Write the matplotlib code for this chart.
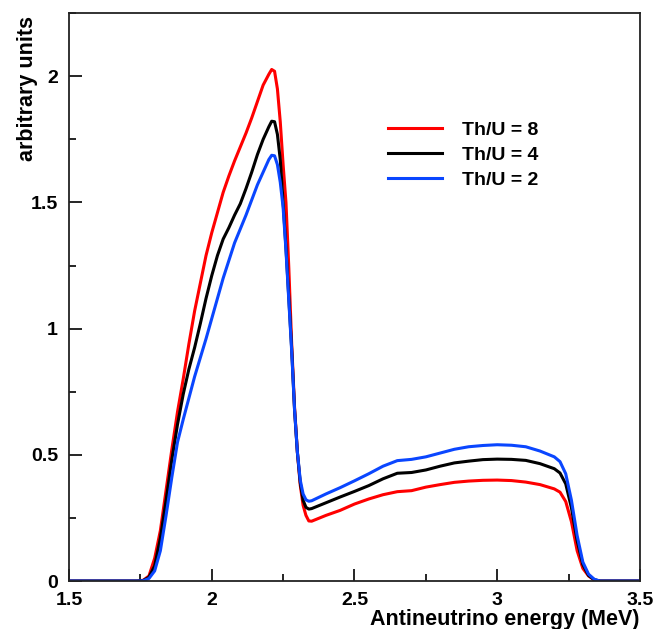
import matplotlib
matplotlib.use("Agg")
import matplotlib.pyplot as plt
from matplotlib.ticker import MultipleLocator, FormatStrFormatter

# antineutrino energy grid (MeV) and spectra
energy = [1.50, 1.74, 1.76, 1.78, 1.80, 1.82, 1.84, 1.86, 1.88, 1.90,
          1.92, 1.94, 1.96, 1.98, 2.00, 2.02, 2.04, 2.06, 2.08, 2.10,
          2.12, 2.14, 2.16, 2.18, 2.20, 2.21, 2.22, 2.23, 2.24, 2.25,
          2.26, 2.27, 2.28, 2.29, 2.30, 2.31, 2.32, 2.33, 2.34, 2.35,
          2.40, 2.45, 2.50, 2.55, 2.60, 2.65, 2.70, 2.75, 2.80, 2.85,
          2.90, 2.95, 3.00, 3.05, 3.10, 3.15, 3.20, 3.22, 3.24, 3.26,
          3.28, 3.30, 3.32, 3.34, 3.36, 3.40, 3.50]

thu8 = [0, 0, 0.003, 0.02, 0.09, 0.20, 0.36, 0.52, 0.67, 0.80,
        0.94, 1.07, 1.18, 1.29, 1.38, 1.46, 1.54, 1.605, 1.665, 1.72,
        1.775, 1.835, 1.90, 1.965, 2.008, 2.027, 2.02, 1.95, 1.82, 1.65,
        1.50, 1.24, 0.94, 0.69, 0.51, 0.38, 0.30, 0.26, 0.238, 0.237,
        0.26, 0.28, 0.305, 0.325, 0.342, 0.354, 0.358, 0.372, 0.382, 0.391,
        0.396, 0.399, 0.400, 0.398, 0.392, 0.382, 0.365, 0.352, 0.315, 0.235,
        0.12, 0.05, 0.02, 0.004, 0, 0, 0]

thu4 = [0, 0, 0.002, 0.015, 0.06, 0.17, 0.32, 0.48, 0.62, 0.74,
        0.84, 0.925, 1.02, 1.12, 1.21, 1.29, 1.355, 1.40, 1.45, 1.495,
        1.555, 1.62, 1.69, 1.75, 1.80, 1.822, 1.82, 1.77, 1.67, 1.50,
        1.32, 1.12, 0.92, 0.68, 0.51, 0.39, 0.32, 0.292, 0.285, 0.287,
        0.31, 0.333, 0.355, 0.378, 0.405, 0.427, 0.43, 0.44, 0.455, 0.468,
        0.475, 0.481, 0.483, 0.482, 0.478, 0.465, 0.445, 0.428, 0.385, 0.29,
        0.16, 0.065, 0.022, 0.005, 0, 0, 0]

thu2 = [0, 0, 0.001, 0.01, 0.04, 0.12, 0.26, 0.41, 0.55, 0.64,
        0.725, 0.81, 0.885, 0.96, 1.04, 1.12, 1.20, 1.27, 1.34, 1.395,
        1.45, 1.51, 1.57, 1.62, 1.67, 1.687, 1.685, 1.65, 1.58, 1.48,
        1.31, 1.11, 0.91, 0.68, 0.51, 0.40, 0.345, 0.322, 0.316, 0.318,
        0.345, 0.37, 0.397, 0.425, 0.455, 0.477, 0.482, 0.492, 0.507, 0.522,
        0.532, 0.537, 0.540, 0.538, 0.532, 0.515, 0.492, 0.473, 0.425, 0.32,
        0.18, 0.075, 0.027, 0.007, 0, 0, 0]

labels = ["Th/U = 8", "Th/U = 4", "Th/U = 2"]
colors = ["#ff0000", "#000000", "#0a46ff"]

plt.rcParams["font.family"] = ["Liberation Sans", "DejaVu Sans"]
plt.rcParams["font.weight"] = "bold"

fig = plt.figure(figsize=(6.53, 6.29), dpi=100)
ax = fig.add_axes([0.1057, 0.0763, 0.8743, 0.9027])

for ys, lab, c in zip([thu8, thu4, thu2], labels, colors):
    ax.plot(energy, ys, color=c, lw=2.2, label=lab)

ax.set_xlim(1.5, 3.5)
ax.set_ylim(0, 2.25)

ax.xaxis.set_major_locator(MultipleLocator(0.5))
ax.xaxis.set_minor_locator(MultipleLocator(0.25))
ax.yaxis.set_major_locator(MultipleLocator(0.5))
ax.yaxis.set_minor_locator(MultipleLocator(0.25))
ax.xaxis.set_major_formatter(FormatStrFormatter("%g"))
ax.yaxis.set_major_formatter(FormatStrFormatter("%g"))

ax.tick_params(which="both", direction="in", top=False, right=False,
               labelsize=14, width=1.2)
ax.tick_params(which="major", length=9)
ax.tick_params(which="minor", length=5)
ax.tick_params(axis="x", pad=8)
ax.tick_params(axis="y", pad=8)
for s in ax.spines.values():
    s.set_linewidth(1.3)
    s.set_color("#222222")

ax.set_xlabel("Antineutrino energy (MeV)", fontsize=15.5, fontweight="bold",
              loc="right", labelpad=0)
ax.set_ylabel("arbitrary units", fontsize=15.5, fontweight="bold", loc="top")
ax.yaxis.set_label_coords(-0.054, 0.995)

leg = ax.legend(loc="upper left", bbox_to_anchor=(0.559, 0.81), frameon=False,
                fontsize=14, handlelength=2.75, handletextpad=1.05,
                labelspacing=0.38, borderpad=0, borderaxespad=0)

fig.savefig("out.png", dpi=100)
